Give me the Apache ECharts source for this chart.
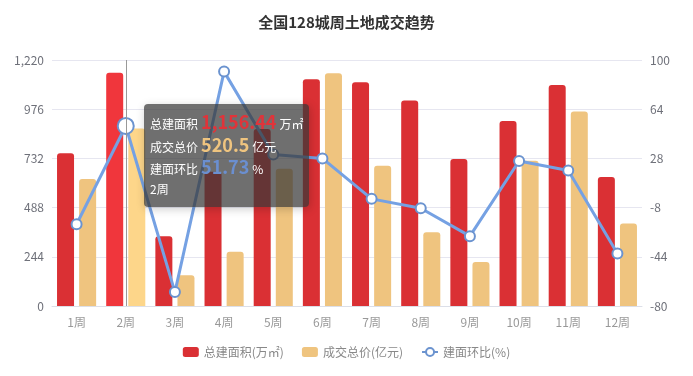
<!DOCTYPE html>
<html>
<head>
<meta charset="utf-8">
<script src="https://cdn.jsdelivr.net/npm/echarts@6/dist/echarts.min.js"></script>
<style>
  html, body { margin: 0; padding: 0; background: #fff; }
  #main { width: 693px; height: 376px; }
</style>
</head>
<body>
<div id="main"></div>
<script>
// chart data
var weeks = ['1周', '2周', '3周', '4周', '5周', '6周', '7周', '8周', '9周', '10周', '11周', '12周'];
var areaData = [758, 1156.44, 346, 666, 878, 1124, 1110, 1019, 729, 918, 1096, 640];
var priceData = [630, 880, 153, 269, 681, 1154, 696, 366, 218, 720, 964, 409];
var ratioData = [-20.2, 51.73, -69.8, 91.5, 30.9, 28, -1.6, -8.5, -28.9, 26.1, 19.2, -41.6];
// price value shown in the tooltip (as in the picture)
var priceTip = [null, 520.5];

var font = '"Noto Sans CJK SC", "Noto Sans", sans-serif';
var myChart = echarts.init(document.getElementById('main'));
var option = {
	animation: false,
	textStyle: { fontFamily: font },
	title: {
		text: '全国128城周土地成交趋势',
		left: 'center',
		top: 10,
		textStyle: { fontSize: 15, fontWeight: 'bold', color: '#333', fontFamily: font }
	},
	tooltip: {
		trigger: 'axis',
		alwaysShowContent: true,
		backgroundColor: 'rgba(55,55,55,0.72)',
		borderWidth: 0,
		padding: [6, 6],
		position: function () { return [144, 104]; },
		axisPointer: {
			type: 'line',
			lineStyle: { color: '#999', width: 1, type: 'solid' }
		},
		formatter: function (params) {
			var i = params[0].dataIndex;
			var p = priceTip[i] != null ? priceTip[i] : priceData[i];
			var big = 'font-size:18px;font-weight:bold;margin:0 3px;line-height:22px;';
			var row = '<div style="height:22.7px;line-height:22.7px;">';
			return '<div style="color:#fff;font-size:12px;font-family:' + font.replace(/"/g, "'") + ';">' +
				row + '总建面积<span style="' + big + 'color:#e0343a">' + echarts.format.addCommas(areaData[i]) + '</span>万㎡</div>' +
				row + '成交总价<span style="' + big + 'color:#efc47f">' + p + '</span>亿元</div>' +
				row + '建面环比<span style="' + big + 'color:#6b8fd0">' + ratioData[i] + '</span>%</div>' +
				row + weeks[i] + '</div></div>';
		}
	},
	legend: {
		bottom: 13,
		itemWidth: 16,
		itemHeight: 10,
		itemGap: 18,
		textStyle: { color: '#888', fontSize: 12 },
		data: ['总建面积(万㎡)', '成交总价(亿元)', '建面环比(%)']
	},
	grid: { left: 52, right: 51, top: 60, bottom: 70 },
	xAxis: {
		type: 'category',
		data: weeks,
		axisLine: { lineStyle: { color: '#dcdfe8' } },
		axisTick: { lineStyle: { color: '#dcdfe8' } },
		axisLabel: { color: '#999', fontSize: 12, margin: 10 }
	},
	yAxis: [
		{
			type: 'value',
			min: 0, max: 1220, interval: 244,
			axisLabel: { color: '#6e7079', fontSize: 12 },
			splitLine: { lineStyle: { color: '#e6e6f0' } }
		},
		{
			type: 'value',
			min: -80, max: 100, interval: 36,
			axisLabel: { color: '#6e7079', fontSize: 12 },
			splitLine: { show: false }
		}
	],
	series: [
		{
			name: '总建面积(万㎡)',
			type: 'bar',
			barWidth: 17,
			barGap: '30%',
			itemStyle: { color: '#da3034', borderRadius: [3, 3, 0, 0] },
			emphasis: { itemStyle: { color: '#f0363c' } },
			data: areaData
		},
		{
			name: '成交总价(亿元)',
			type: 'bar',
			barWidth: 17,
			itemStyle: { color: '#efc47f', borderRadius: [3, 3, 0, 0] },
			emphasis: { itemStyle: { color: '#fdd68a' } },
			data: priceData
		},
		{
			name: '建面环比(%)',
			type: 'line',
			yAxisIndex: 1,
			symbol: 'emptyCircle',
			symbolSize: 10,
			z: 5,
			lineStyle: { color: '#6b93cf', width: 3 },
			itemStyle: { color: '#6b93cf', borderWidth: 1.5 },
			emphasis: { scale: 1.6 },
			data: ratioData
		}
	]
};
myChart.setOption(option);
myChart.dispatchAction({ type: 'highlight', seriesIndex: [0, 1], dataIndex: 1 });
myChart.dispatchAction({ type: 'showTip', seriesIndex: 0, dataIndex: 1 });
</script>
</body>
</html>
